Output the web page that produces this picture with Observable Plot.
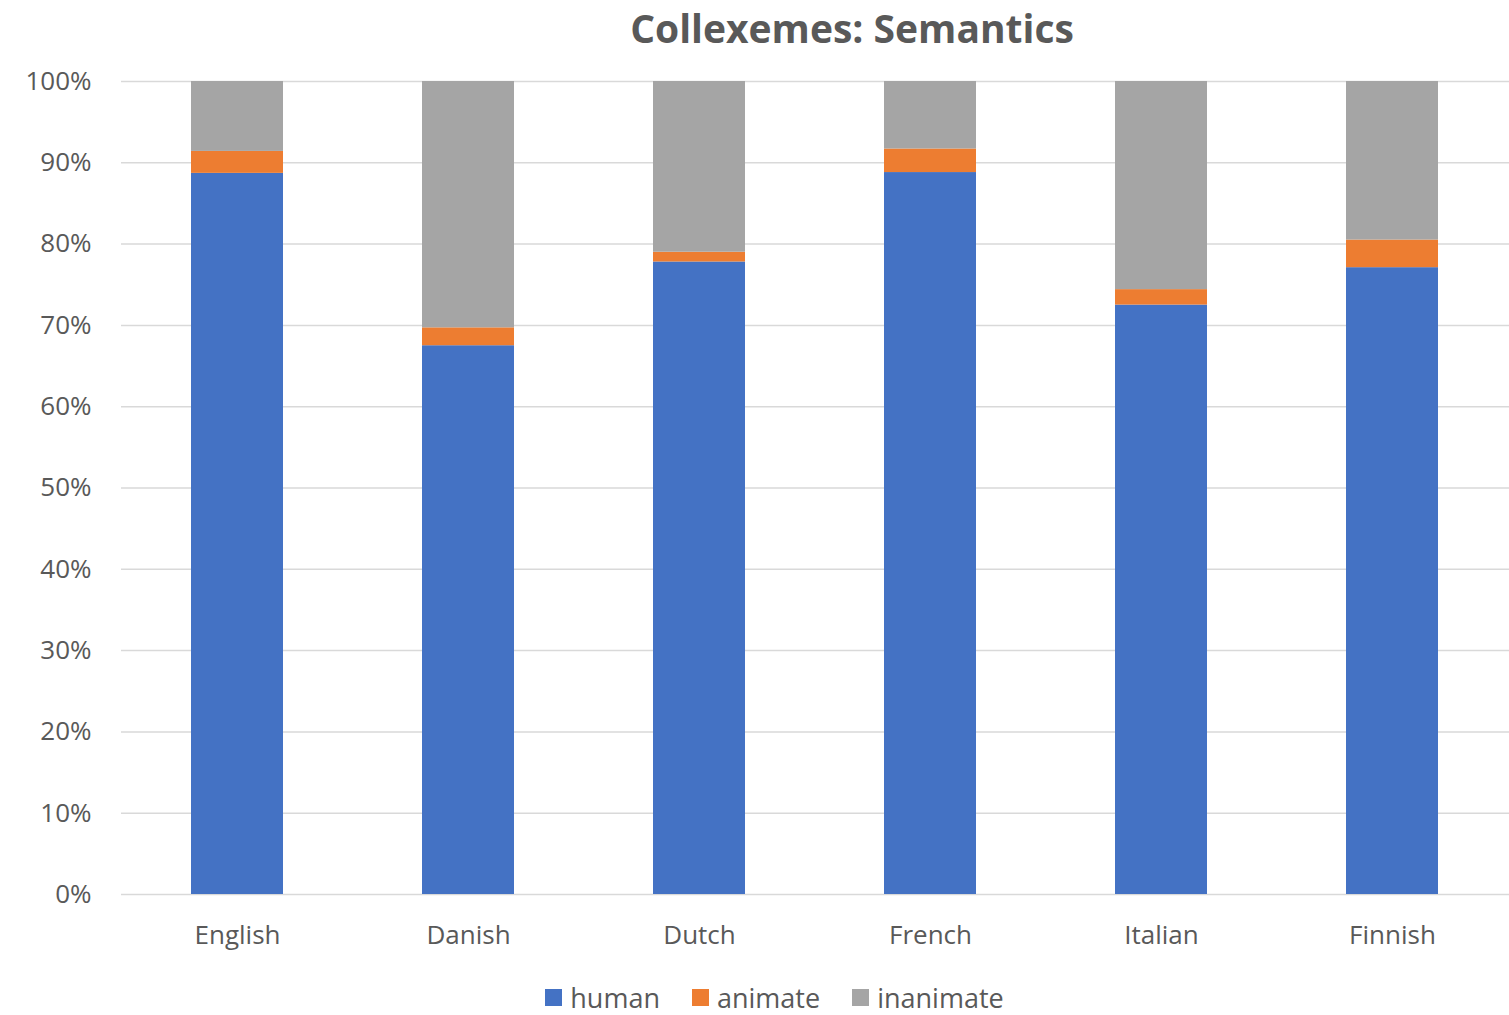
<!DOCTYPE html>
<html>
<head>
<meta charset="utf-8">
<script src="https://cdn.jsdelivr.net/npm/d3@7"></script>
<script src="https://cdn.jsdelivr.net/npm/@observablehq/plot@0.6"></script>
<style>
  html, body { margin: 0; padding: 0; background: #fff; }
  body { width: 1509px; font-family: "Open Sans", "Noto Sans", sans-serif; color: #595959; }
  #title { height: 56px; line-height: 56px; text-align: center; font-size: 39px; font-weight: bold; color: #595959; padding-left: 195px; box-sizing: border-box; }
  #legend { display: flex; justify-content: center; align-items: center; gap: 32px; margin-top: 20px; font-size: 27px; padding-left: 40px; }
  #legend span.item { display: flex; align-items: center; gap: 8px; }
  #legend span.sw { width: 17px; height: 17px; display: inline-block; }
</style>
</head>
<body>
<div id="title">Collexemes: Semantics</div>
<div id="chart"></div>
<div id="legend"></div>
<script>
const languages = ["English", "Danish", "Dutch", "French", "Italian", "Finnish"];
const series = ["human", "animate", "inanimate"];
const colors = ["#4472C4", "#ED7D31", "#A5A5A5"];
const human = [88.7, 67.5, 77.8, 88.8, 72.5, 77.1];
const animate = [2.7, 2.2, 1.2, 2.9, 1.9, 3.4];
const inanimate = [8.6, 30.3, 21.0, 8.3, 25.6, 19.5];
const yTicks = [0, 0.1, 0.2, 0.3, 0.4, 0.5, 0.6, 0.7, 0.8, 0.9, 1.0];

const seriesValues = {human, animate, inanimate};
const data = [];
series.forEach(s => {
  languages.forEach((l, i) => data.push({language: l, series: s, value: seriesValues[s][i] / 100}));
});

const chart = Plot.plot({
  width: 1509,
  height: 903,
  marginTop: 25,
  marginBottom: 65,
  marginLeft: 121,
  marginRight: 0,
  style: {fontFamily: "'Open Sans', 'Noto Sans', sans-serif", fontSize: "26px", color: "#595959", background: "#fff"},
  x: {domain: languages, paddingInner: 0.6, paddingOuter: 0.3, label: null, tickSize: 0, tickPadding: 31},
  y: {domain: [0, 1], ticks: yTicks, tickFormat: d3.format(".0%"), label: null, tickSize: 0, tickPadding: 30},
  color: {domain: series, range: colors},
  marks: [
    Plot.gridY(yTicks, {stroke: "#d9d9d9", strokeOpacity: 1, strokeWidth: 1.5}),
    Plot.barY(data, {x: "language", y: "value", fill: "series", order: series}),
    Plot.axisX({tickSize: 0, tickPadding: 31, fill: "#595959"}),
    Plot.axisY({ticks: yTicks, tickFormat: d3.format(".0%"), tickSize: 0, tickPadding: 30, fill: "#595959"})
  ]
});
document.getElementById("chart").appendChild(chart);

const legend = document.getElementById("legend");
series.forEach((s, i) => {
  const item = document.createElement("span");
  item.className = "item";
  const sw = document.createElement("span");
  sw.className = "sw";
  sw.style.background = colors[i];
  item.appendChild(sw);
  item.appendChild(document.createTextNode(s));
  legend.appendChild(item);
});
</script>
</body>
</html>
